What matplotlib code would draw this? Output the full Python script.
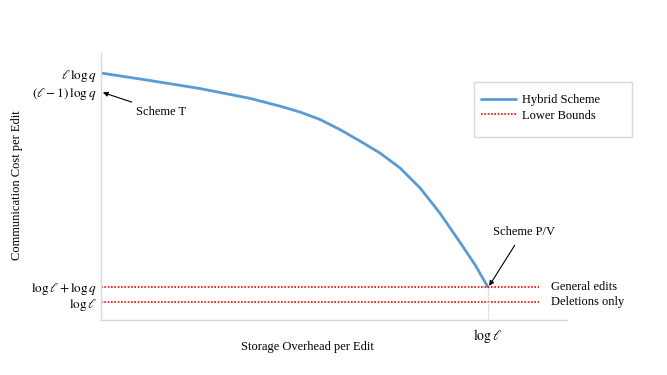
import matplotlib
matplotlib.use("Agg")
import matplotlib.pyplot as plt
from matplotlib.patches import Rectangle

plt.rcParams['font.family'] = ['Liberation Serif', 'DejaVu Serif']
plt.rcParams['mathtext.fontset'] = 'stix'

# Data (normalised storage overhead vs communication cost)
hybrid_x = [0.000, 0.105, 0.212, 0.320, 0.384, 0.427, 0.470, 0.513, 0.556, 0.599,
            0.642, 0.685, 0.727, 0.770, 0.803, 0.830]
hybrid_y = [0.925, 0.897, 0.867, 0.830, 0.801, 0.779, 0.751, 0.713, 0.670, 0.625,
            0.569, 0.494, 0.401, 0.292, 0.206, 0.124]
x_log_l = 0.830
y_general = 0.124
y_deletions = 0.067
y_ticks = [0.067, 0.124, 0.854, 0.925]
y_ticklabels = [r'$\log \ell$', r'$\log \ell + \log q$', r'$(\ell - 1)\,\log q$', r'$\ell\,\log q$']
x_ticks = [0.830]
x_ticklabels = [r'$\log \ell$']

W, H = 667, 375
fig = plt.figure(figsize=(6.67, 3.75), dpi=100)
ax = fig.add_axes([101/W, 55/H, 466/W, 267/H])
ax.set_xlim(0, 1)
ax.set_ylim(0, 1)

ax.plot(hybrid_x, hybrid_y, color='#5b9bd5', lw=2.0, label='Hybrid Scheme',
        solid_capstyle='round', solid_joinstyle='round')
ax.plot([0, 0.94], [y_general, y_general], color='red', lw=1.2, ls=(0, (1, 1)), label='Lower Bounds')
ax.plot([0, 0.94], [y_deletions, y_deletions], color='red', lw=1.2, ls=(0, (1, 1)))
ax.plot([x_log_l, x_log_l], [0, y_general], color='#c8c8c8', lw=0.8, ls=(0, (1, 1)))

for s in ['top', 'right']:
    ax.spines[s].set_visible(False)
for s in ['left', 'bottom']:
    ax.spines[s].set_color('#d9d9d9')
    ax.spines[s].set_linewidth(1.0)

ax.set_yticks(y_ticks)
ax.set_yticklabels(y_ticklabels, fontsize=9.5)
ax.set_xticks(x_ticks)
ax.set_xticklabels(x_ticklabels, fontsize=10)
ax.tick_params(axis='y', length=0, pad=3)
ax.tick_params(axis='x', length=0, pad=5)

ax.text(0.965, y_general, 'General edits', fontsize=9, va='center', ha='left')
ax.text(0.965, y_deletions, 'Deletions only', fontsize=9, va='center', ha='left')

ax.annotate('Scheme T', xy=(0.004, 0.852), xytext=(0.075, 0.78), fontsize=9,
            ha='left', va='center',
            arrowprops=dict(arrowstyle='-|>', color='black', lw=0.8, mutation_scale=7,
                            shrinkA=2, shrinkB=0))
ax.annotate('Scheme P/V', xy=(x_log_l + 0.003, y_general + 0.004), xytext=(0.842, 0.33), fontsize=9,
            ha='left', va='center',
            arrowprops=dict(arrowstyle='-|>', color='black', lw=0.8, mutation_scale=7,
                            shrinkA=4, shrinkB=0, relpos=(0.42, 0.0)))

fig.text(17/W, 1 - 185/H, 'Communication Cost per Edit', rotation=90, fontsize=9,
         ha='center', va='center')
fig.text(307/W, 1 - 347/H, 'Storage Overhead per Edit', fontsize=9,
         ha='center', va='center')

# legend frame
fig.patches.append(Rectangle((474/W, 1 - 137/H), (632 - 474)/W, (137 - 82)/H,
                             transform=fig.transFigure, facecolor='white',
                             edgecolor='#d9d9d9', lw=1.0, zorder=5))
leg = fig.legend(*ax.get_legend_handles_labels(), loc='upper left',
                 bbox_to_anchor=(481/W, 1 - 94/H), fontsize=9, frameon=False,
                 handlelength=2.8, borderpad=0, borderaxespad=0,
                 labelspacing=0.3, handletextpad=0.5)
leg.set_zorder(6)

fig.savefig('out.png', dpi=100)
